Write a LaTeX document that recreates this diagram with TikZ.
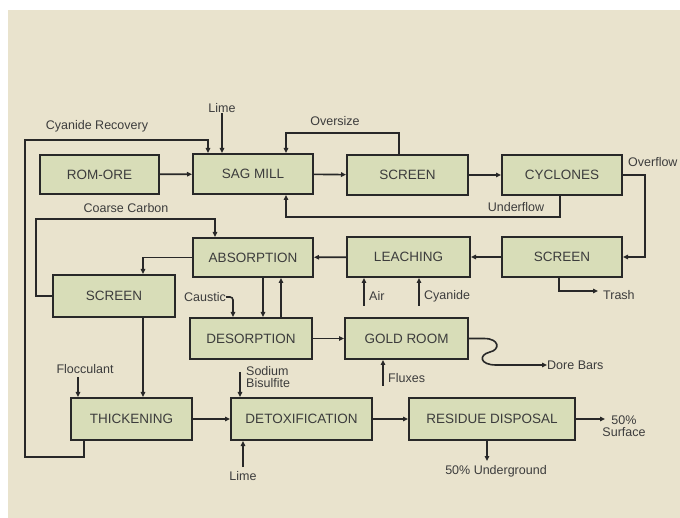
\documentclass[tikz,border=0pt]{standalone}
\usepackage{fontspec}
\setmainfont{Liberation Sans}
\usetikzlibrary{arrows.meta}
\definecolor{bgc}{RGB}{233,227,205}
\definecolor{boxc}{RGB}{216,221,184}
\definecolor{linec}{RGB}{40,40,40}
\definecolor{txtc}{RGB}{60,60,60}
\tikzset{
  box/.style={draw=linec, line width=2pt, fill=boxc, inner sep=0pt, text=txtc,
    font=\fontsize{13.5}{14}\selectfont},
  lbl/.style={text=txtc, inner sep=0pt, font=\fontsize{12.5}{13}\selectfont},
  arr/.style={draw=linec, line width=1.6pt, -{Triangle[length=5pt,width=4.5pt]}},
  ln/.style={draw=linec, line width=1.6pt}
}
\begin{document}
\begin{tikzpicture}[x=1pt,y=-1pt]
\useasboundingbox (0,0) rectangle (680,518);
\fill[white] (0,0) rectangle (680,518);
\fill[bgc] (8,10) rectangle (680,518);
% boxes
\node[box, minimum width=119pt, minimum height=39pt] (rom) at (99.5,174.5) {ROM-ORE};
\node[box, minimum width=120pt, minimum height=40pt] (sag) at (253,174) {SAG MILL};
\node[box, minimum width=121pt, minimum height=40pt] (scr1) at (407.5,175) {SCREEN};
\node[box, minimum width=120pt, minimum height=40pt] (cyc) at (562,175) {CYCLONES};
\node[box, minimum width=120pt, minimum height=39pt] (abs) at (253,257.5) {ABSORPTION};
\node[box, minimum width=123pt, minimum height=40pt] (leach) at (408.5,257) {LEACHING};
\node[box, minimum width=120pt, minimum height=40pt] (scr2) at (562,257) {SCREEN};
\node[box, minimum width=122pt, minimum height=42pt] (scr3) at (114,296) {SCREEN};
\node[box, minimum width=122pt, minimum height=41pt] (desorp) at (251,338.5) {DESORPTION};
\node[box, minimum width=123pt, minimum height=41pt] (gold) at (406.5,338.5) {GOLD ROOM};
\node[box, minimum width=121pt, minimum height=42pt] (thick) at (131.5,419) {THICKENING};
\node[box, minimum width=141pt, minimum height=42pt] (detox) at (301.5,419) {DETOXIFICATION};
\node[box, minimum width=166pt, minimum height=42pt] (resid) at (492,419) {RESIDUE DISPOSAL};
% labels
\node[lbl] (lime1) at (222,108) {Lime};
\node[lbl] (cyrec) at (97,126) {Cyanide Recovery};
\node[lbl] (overs) at (335,121) {Oversize};
\node[lbl, anchor=west] (overf) at (628,162) {Overflow};
\node[lbl] (underf) at (516,207) {Underflow};
\node[lbl] (coarse) at (126,208) {Coarse Carbon};
\node[lbl, anchor=west] (trash) at (603,295) {Trash};
\node[lbl, anchor=west] (air) at (369,296) {Air};
\node[lbl, anchor=west] (cyan) at (424,296) {Cyanide};
\node[lbl] (caustic) at (205,297) {Caustic};
\node[lbl, anchor=west] (dore) at (547,365) {Dore Bars};
\node[lbl, anchor=west] (flux) at (388,378) {Fluxes};
\node[lbl] (floc) at (85,369) {Flocculant};
\node[lbl, anchor=west, align=left] (sodium) at (246,377) {Sodium\\[-1pt]Bisulfite};
\node[lbl] (lime2) at (243,476) {Lime};
\node[lbl, align=center] (surf) at (624,426) {50\%\\[-1pt]Surface};
\node[lbl] (under) at (496,471) {50\% Underground};
% coordinates
\coordinate (o1) at (286,133);
\coordinate (u1) at (286,217);
\coordinate (c1) at (25,457);
\coordinate (c2) at (25,140);
\coordinate (c3) at (208,140);
\coordinate (cc1) at (36,219);
\coordinate (cc2) at (215,219);
\coordinate (of) at (645,175);
\coordinate (tr) at (598,291);
\coordinate (airp) at (364,306);
\coordinate (cyp) at (419,306);
\coordinate (a1) at (143,257.5);
\coordinate (ad) at (263,0);
\coordinate (da) at (281,0);
\coordinate (ca) at (233,0);
\coordinate (fx) at (383,386);
\coordinate (flp) at (78,377);
\coordinate (sbp) at (240,372);
\coordinate (l2p) at (243,467);
\coordinate (sfp) at (605,419);
\coordinate (ugp) at (487,461);
% connectors
\draw[arr] (rom) -- (sag);
\draw[arr] (sag) -- (scr1);
\draw[arr] (scr1) -- (cyc);
\draw[arr] ([xshift=-8.5pt]scr1.north) |- (o1) -- (o1 |- sag.north);
\draw[arr] ([xshift=-2pt]cyc.south) |- (u1) -- (u1 |- sag.south);
\draw[arr] (lime1.south) -- (lime1.south |- sag.north);
\draw[arr] ([xshift=-47.5pt]thick.south) |- (c1) -- (c2) -- (c3) -- (c3 |- sag.north);
\draw[arr] (scr3.west) -- (scr3.west -| cc1) -- (cc1) -- (cc2) -- (cc2 |- abs.north);
\draw[arr] (cyc.east) -- (of) |- (scr2.east);
\draw[arr] (scr2) -- (leach);
\draw[arr] (leach) -- (abs);
\draw[arr] ([xshift=-3pt]scr2.south) |- (tr);
\draw[arr] (airp) -- (airp |- leach.south);
\draw[arr] (cyp) -- (cyp |- leach.south);
\draw[arr] (abs.west) -- (a1) -- (a1 |- scr3.north);
\draw[arr] (ad |- abs.south) -- (ad |- desorp.north);
\draw[arr] (da |- desorp.north) -- (da |- abs.south);
\draw[arr, rounded corners=3pt] (caustic.east) -| (ca |- desorp.north);
\draw[arr] (desorp) -- (gold);
\draw[arr] (scr3.south -| a1) -- (a1 |- thick.north);
\draw[arr] (gold.east) -- (484,338.5) .. controls (500,338.5) and (500,350) .. (490,352) .. controls (478,355) and (480,365) .. (496,365) -- (dore.west);
\draw[arr] (fx) -- (fx |- gold.south);
\draw[arr] (flp) -- (flp |- thick.north);
\draw[arr] (sbp) -- (sbp |- detox.north);
\draw[arr] (l2p) -- (l2p |- detox.south);
\draw[arr] (thick) -- (detox);
\draw[arr] (detox) -- (resid);
\draw[arr] (resid.east) -- (sfp);
\draw[arr] (ugp |- resid.south) -- (ugp);
\end{tikzpicture}
\end{document}
